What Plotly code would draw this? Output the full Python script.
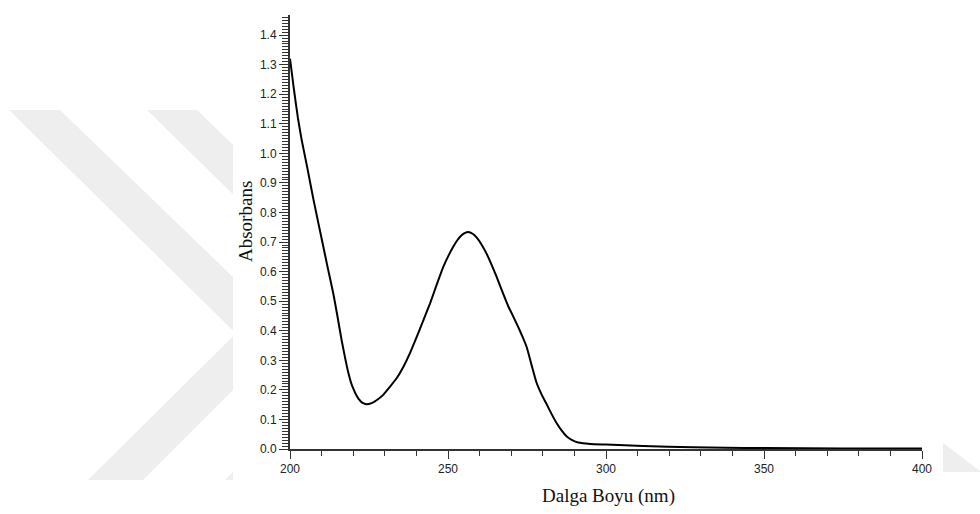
import plotly.graph_objects as go

# ---- data ----
wavelength_nm = [200, 201.2, 202.5, 203.7, 205.5, 207.4, 210, 212, 213.7, 215, 216.3, 217.5,
                 218.5, 219.3, 220, 221, 222.2, 223.3, 224.3, 225.8, 227.4, 229.5, 231.6,
                 233.8, 235.9, 238, 240.1, 242.2, 244.3, 246.4, 248.5, 250.2, 251.7, 253,
                 254.3, 255.4, 256.4, 257.8, 259.1, 260.6, 262.2, 263.8, 265.4, 267.2, 269.1,
                 270.7, 272.2, 273.5, 274.9, 276.5, 278, 279.6, 281.2, 282.8, 284.4, 286,
                 287.5, 289.3, 291.2, 295, 300, 311.7, 327.5, 338, 350, 375, 400]
absorbance = [1.32, 1.22, 1.12, 1.045, 0.95, 0.845, 0.712, 0.61, 0.526, 0.45, 0.37, 0.305,
              0.256, 0.225, 0.205, 0.182, 0.163, 0.154, 0.151, 0.155, 0.165, 0.183, 0.21,
              0.24, 0.278, 0.325, 0.379, 0.435, 0.492, 0.555, 0.616, 0.655, 0.685, 0.707,
              0.723, 0.731, 0.734, 0.728, 0.715, 0.692, 0.661, 0.623, 0.582, 0.532, 0.482,
              0.447, 0.413, 0.382, 0.345, 0.282, 0.225, 0.185, 0.152, 0.118, 0.087, 0.062,
              0.043, 0.03, 0.022, 0.017, 0.015, 0.01, 0.006, 0.004, 0.003, 0.002, 0.002]

x_title = "Dalga Boyu (nm)"
y_title = "Absorbans"

# ---- layout geometry (pixels) ----
W, H = 980, 514
L, R, T, B = 290, 58, 15, 65
PW, PH = W - L - R, H - T - B


def px(x, y):
    return (x - L) / PW, (H - B - y) / PH


def poly(points):
    parts = []
    for i, (x, y) in enumerate(points):
        a, b = px(x, y)
        parts.append(("M" if i == 0 else "L") + f"{a:.5f},{b:.5f}")
    return " ".join(parts) + " Z"


wm = "#eeeeee"
shapes = [
    dict(type="path", xref="paper", yref="paper", layer="below",
         path=poly([(9, 110), (60, 110), (290.5, 332.5), (143, 480), (88, 480), (235.8, 333.4)]),
         fillcolor=wm, line=dict(width=0)),
    dict(type="path", xref="paper", yref="paper", layer="below",
         path=poly([(147, 110), (197, 110), (427.5, 332.5), (280, 480), (225, 480), (373.3, 332.1)]),
         fillcolor=wm, line=dict(width=0)),
    dict(type="path", xref="paper", yref="paper", layer="below",
         path=poly([(943, 443), (980, 471), (980, 472), (943, 472)]),
         fillcolor=wm, line=dict(width=0)),
]
x0, y0 = px(233, 0)
x1, y1 = px(943, H)
shapes.append(dict(type="rect", xref="paper", yref="paper", layer="below",
                   x0=x0, y0=y1, x1=x1, y1=y0, fillcolor="white", line=dict(width=0)))

fig = go.Figure()
fig.add_trace(go.Scatter(x=wavelength_nm, y=absorbance, mode="lines",
                         line=dict(color="black", width=2, shape="spline", smoothing=0.4),
                         showlegend=False, hoverinfo="skip"))

tick_font = dict(family="Liberation Sans, Arial, sans-serif", size=12, color="#222")
title_font = dict(family="Liberation Serif, Times New Roman, serif", size=19, color="#111")

ax_, ay_ = px(608, 496)
bx_, by_ = px(245, 222)
annotations = [
    dict(text=x_title, xref="paper", yref="paper", x=ax_, y=ay_, showarrow=False,
         xanchor="center", yanchor="middle", font=title_font),
    dict(text=y_title, xref="paper", yref="paper", x=bx_, y=by_, showarrow=False,
         xanchor="center", yanchor="middle", textangle=-90, font=title_font),
]

fig.update_layout(
    width=W, height=H,
    margin=dict(l=L, r=R, t=T, b=B, pad=0),
    paper_bgcolor="white", plot_bgcolor="rgba(0,0,0,0)",
    shapes=shapes, annotations=annotations,
    xaxis=dict(range=[200, 400], tick0=200, dtick=50, ticks="outside", ticklen=8,
               tickwidth=1.3, tickcolor="#333", showgrid=False, zeroline=False,
               showline=True, linecolor="#333", linewidth=2, tickfont=tick_font,
               minor=dict(dtick=10, ticks="outside", ticklen=5, tickwidth=1.2, tickcolor="#333")),
    yaxis=dict(range=[0, 1.468], tick0=0, dtick=0.1, tickformat=".1f", ticks="outside",
               ticklen=9, tickwidth=1.2, tickcolor="#333", showgrid=False, zeroline=False,
               showline=True, linecolor="#333", linewidth=2, tickfont=tick_font,
               minor=dict(dtick=0.01, ticks="outside", ticklen=6, tickwidth=1, tickcolor="#333")),
)

fig.write_html("out.html")
